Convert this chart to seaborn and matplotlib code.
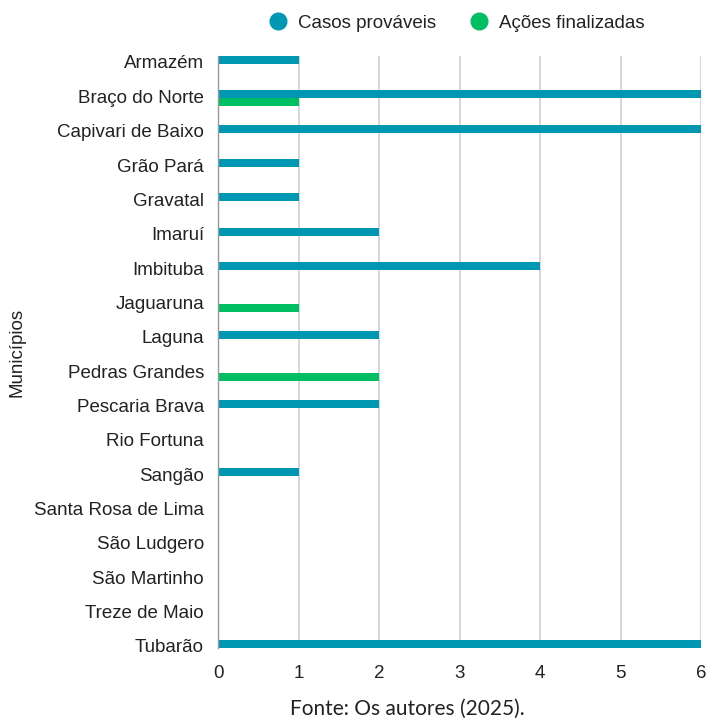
import matplotlib
matplotlib.use("Agg")
import matplotlib.pyplot as plt
import seaborn as sns
import pandas as pd
from matplotlib.lines import Line2D

municipios = ["Armazém", "Braço do Norte", "Capivari de Baixo", "Grão Pará", "Gravatal",
              "Imaruí", "Imbituba", "Jaguaruna", "Laguna", "Pedras Grandes",
              "Pescaria Brava", "Rio Fortuna", "Sangão", "Santa Rosa de Lima",
              "São Ludgero", "São Martinho", "Treze de Maio", "Tubarão"]
casos_provaveis = [1, 6, 6, 1, 1, 2, 4, 0, 2, 0, 2, 0, 1, 0, 0, 0, 0, 6]
acoes_finalizadas = [0, 1, 0, 0, 0, 0, 0, 1, 0, 2, 0, 0, 0, 0, 0, 0, 0, 0]
series_names = ["Casos prováveis", "Ações finalizadas"]
x_ticks = [0, 1, 2, 3, 4, 5, 6]

BLUE = "#0097B2"
GREEN = "#00BF63"

df = pd.DataFrame({
    "Município": municipios * 2,
    "Valor": casos_provaveis + acoes_finalizadas,
    "Série": [series_names[0]] * len(municipios) + [series_names[1]] * len(municipios),
})

sns.set_style("white")
plt.rcParams["font.family"] = ["Liberation Sans", "DejaVu Sans"]

fig = plt.figure(figsize=(7.09, 7.2), dpi=100)
ax = fig.add_axes([218 / 709, (720 - 648) / 720, (701 - 218) / 709, (648 - 56) / 720])

sns.barplot(data=df, y="Município", x="Valor", hue="Série", orient="h",
            palette=[BLUE, GREEN], width=0.466, dodge=True, ax=ax,
            legend=False, saturation=1, linewidth=0)

ax.set_xlim(0, 6)
ax.set_ylim(17.0, -0.233)
ax.set_xticks(x_ticks)
ax.set_xticklabels([str(t) for t in x_ticks], fontsize=13.5, color="#222222")
ax.set_yticks([i - 0.06 for i in range(len(municipios))])
ax.set_yticklabels(municipios, fontsize=13.5, color="#222222")
ax.tick_params(axis="y", length=0, pad=10)
ax.tick_params(axis="x", length=6, width=1.2, color="#c8c8c8", pad=6)
ax.grid(axis="x", color="#d0d0d0", linewidth=1.2)
ax.set_axisbelow(True)
for s in ["top", "right", "bottom"]:
    ax.spines[s].set_visible(False)
ax.spines["left"].set_color("#999999")
ax.spines["left"].set_linewidth(1.0)
ax.set_xlabel("")
ax.set_ylabel("Municípios", fontsize=13.5, color="#222222")
ax.yaxis.set_label_coords((25 - 218) / 483, 0.5)

handles = [Line2D([], [], marker="o", linestyle="", markersize=12, color=BLUE),
           Line2D([], [], marker="o", linestyle="", markersize=12, color=GREEN)]
fig.legend(handles, series_names, loc="center", bbox_to_anchor=(452 / 709, 1 - 23 / 720),
           ncol=2, frameon=False, fontsize=13.5, handletextpad=0.1, columnspacing=1.25,
           labelcolor="#222222")

fig.text(407 / 709, 1 - 709 / 720, "Fonte: Os autores (2025).", ha="center", va="center",
         fontsize=15, family=["Lato", "DejaVu Sans"], color="#222222")

fig.savefig("out.png", dpi=100)
